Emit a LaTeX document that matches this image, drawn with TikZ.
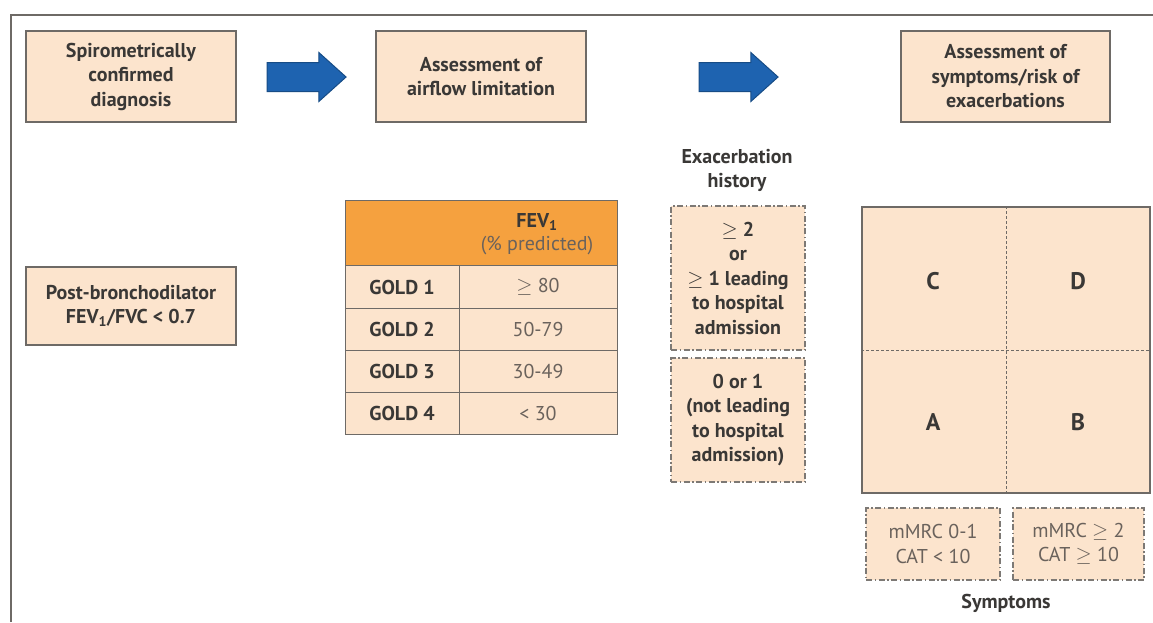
\documentclass[tikz,border=0pt]{standalone}
\usepackage{fontspec}
\setmainfont{PT Sans}
\usetikzlibrary{shapes.arrows}
\definecolor{peach}{HTML}{FCE4CD}
\definecolor{hdr}{HTML}{F5A13F}
\definecolor{edge}{HTML}{6E6A66}
\definecolor{ink}{HTML}{3A3836}
\definecolor{soft}{HTML}{6A625C}
\definecolor{arrowblue}{HTML}{1E63B0}
\definecolor{arrowedge}{HTML}{174C86}
\newcommand{\geqs}{\ensuremath{\geq}}
\begin{document}
\begin{tikzpicture}[x=1pt,y=-1pt,
  every node/.style={font=\fontsize{20}{24.5}\selectfont\bfseries, text=ink, align=center, inner sep=0pt},
  box/.style={draw=edge, line width=1.1pt, fill=peach, minimum width=210pt},
  cell/.style={draw=edge, line width=1pt, fill=peach},
  dbox/.style={draw=edge!90, line width=1.1pt, fill=peach, dash pattern=on 6pt off 2.5pt on 1.5pt off 2.5pt, minimum width=134pt},
  val/.style={font=\fontsize{20}{24.5}\selectfont, text=soft},
  bigarrow/.style={single arrow, draw=arrowedge, fill=arrowblue, line width=1pt, inner xsep=0pt, inner ysep=14pt, minimum height=79pt, single arrow head extend=10pt, single arrow tip angle=84},
  letter/.style={font=\fontsize{24}{24}\selectfont\bfseries}
]
\useasboundingbox (0,0) rectangle (1153,622);
\fill[white] (0,0) rectangle (1153,622);
% frame
\draw[edge, line width=1.3pt] (11,622) -- (11,15) -- (1153,15);

% top boxes
\node[box, minimum height=91pt] (diag) at (131,76.5) {Spirometrically\\confirmed\\diagnosis};
\node[box, minimum height=91pt] (airflow) at (481,76.5) {Assessment of\\airflow limitation};
\node[box, minimum width=209pt, minimum height=91pt] (sympt) at (1005.5,76.5) {Assessment of\\symptoms/risk of\\exacerbations};

% arrows
\node[bigarrow] (arr1) at (298.5,77) {};
\node[bigarrow] (arr2) at (730.5,77) {};

% post-bronchodilator
\node[box, minimum height=78pt] (post) at (131,306) {Post-bronchodilator\\FEV\textsubscript{1}/FVC < 0.7};

% table
\node[draw=edge, line width=1pt, fill=hdr, minimum width=272pt, minimum height=66pt] (hdr) at (481,233) {};
\node[anchor=center] (hdrtxt) at (537,234) {FEV\textsubscript{1}\\[-1pt]\mdseries\color{soft}(\% predicted)};
\foreach \i/\v [count=\k] in {1/{\geqs\ 80},2/{50-79},3/{30-49},4/{< 30}} {
  \pgfmathsetmacro{\yc}{287+42.25*(\k-1)}
  \node[cell, minimum width=114pt, minimum height=42.25pt] (g\i) at (402,\yc) {GOLD \i};
  \node[cell, minimum width=158pt, minimum height=42.25pt, val] (v\i) at (538,\yc) {\v};
}

% exacerbation history
\node (exh) at (737,170.5) {Exacerbation\\history};
\node[dbox, minimum height=144pt] (ex1) at (738,278) {\geqs\ 2\\or\\\geqs\ 1 leading\\to hospital\\admission};
\node[dbox, minimum height=124pt] (ex2) at (738,420) {0 or 1\\(not leading\\to hospital\\admission)};

% grid
\node[draw=edge, line width=1.1pt, fill=peach, minimum width=288pt, minimum height=286pt] (grid) at (1006,350) {};
\draw[edge, line width=1pt, dash pattern=on 3pt off 2pt] (grid.north) -- (grid.south);
\draw[edge, line width=1pt, dash pattern=on 3pt off 2pt] (grid.west) -- (grid.east);
\node[letter] (C) at (933,281) {C};
\node[letter] (D) at (1078,281) {D};
\node[letter] (A) at (933,422) {A};
\node[letter] (B) at (1078,422) {B};

% symptoms boxes
\node[dbox, val, minimum height=72pt] (s1) at (933,544) {mMRC 0-1\\CAT < 10};
\node[dbox, val, minimum width=131pt, minimum height=72pt] (s2) at (1078.5,544) {mMRC \geqs\ 2\\CAT \geqs\ 10};
\node (symptoms) at (1006,603) {Symptoms};
\end{tikzpicture}
\end{document}
